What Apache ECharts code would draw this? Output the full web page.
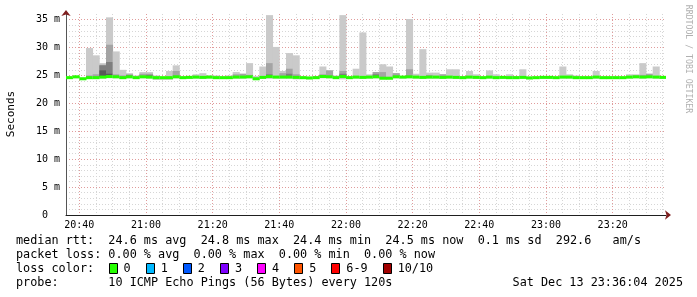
<!DOCTYPE html>
<html><head><meta charset="utf-8">
<script src="https://cdn.jsdelivr.net/npm/echarts@6/dist/echarts.min.js"></script>
<style>html,body{margin:0;padding:0;background:#fff}#c{width:697px;height:297px}</style>
</head><body><div id="c"></div>
<script>
// ---- time axis ----
const START_MIN = 20 * 60 + 36, END_MIN = 23 * 60 + 36, STEP_MIN = 2;
function hhmm(m) { return String(Math.floor(m / 60)).padStart(2, '0') + ':' + String(m % 60).padStart(2, '0'); }
const minuteCats = []; for (let m = START_MIN; m <= END_MIN; m++) minuteCats.push(hhmm(m));
const stepCats = []; for (let m = START_MIN; m < END_MIN; m += STEP_MIN) stepCats.push(hhmm(m));
const xTickLabels = ['20:40', '21:00', '21:20', '21:40', '22:00', '22:20', '22:40', '23:00', '23:20'];
const yTickValues = [0, 5, 10, 15, 20, 25, 30, 35];

// ---- data (ms) per 2-minute step ----
const medianRtt = [24.6,24.75,24.4,24.6,24.6,24.7,24.8,24.75,24.6,24.75,24.6,24.75,24.7,24.6,24.6,24.6,24.75,24.6,24.65,24.7,
  24.65,24.7,24.6,24.6,24.6,24.7,24.7,24.75,24.4,24.65,24.8,24.7,24.7,24.7,24.65,24.6,24.55,24.6,24.8,24.75,
  24.6,24.8,24.6,24.7,24.65,24.7,24.75,24.5,24.5,24.75,24.7,24.75,24.7,24.65,24.7,24.7,24.65,24.7,24.65,24.6,
  24.7,24.65,24.6,24.7,24.6,24.65,24.6,24.6,24.65,24.55,24.6,24.65,24.65,24.6,24.7,24.7,24.6,24.6,24.6,24.7,
  24.6,24.6,24.6,24.6,24.7,24.75,24.7,24.75,24.7,24.65];
const smokeMin = [24.4,24.5,24.2,24.4,24.4,24.45,24.5,24.5,24.4,24.5,24.4,24.5,24.45,24.2,24.2,24.2,24.5,24.4,24.4,24.45,
  24.4,24.45,24.4,24.4,24.4,24.45,24.45,24.5,24.2,24.4,24.4,24.45,24.45,24.45,24.3,24.4,24.3,24.4,24.5,24.5,
  24.4,24.3,24.4,24.45,24.4,24.45,24.5,24.3,24.3,24.5,24.45,24.5,24.45,24.4,24.45,24.45,24.4,24.45,24.4,24.4,
  24.45,24.4,24.4,24.45,24.4,24.4,24.4,24.4,24.4,24.3,24.4,24.4,24.4,24.4,24.45,24.45,24.4,24.4,24.4,24.45,
  24.4,24.4,24.4,24.4,24.45,24.5,24.45,24.5,24.45,24.4];
const smokeMax = [24.8,24.9,24.6,29.9,28.6,27.2,35.4,29.3,26.0,25.4,25.0,25.6,25.6,25.0,24.7,25.8,26.8,24.8,24.9,25.2,
  25.4,25.0,25.0,24.8,25.0,25.6,25.3,27.2,24.9,26.6,35.8,30.1,25.8,29.0,28.6,24.8,24.7,24.9,26.6,25.9,
  25.0,35.8,24.9,26.2,32.7,25.2,25.6,27.0,26.6,25.4,24.9,35.1,25.3,29.7,25.5,25.5,25.2,26.1,26.1,24.9,
  25.8,25.2,24.8,25.9,25.2,24.9,25.2,24.9,26.1,24.8,24.7,24.8,24.8,24.7,26.6,25.2,25.0,24.8,24.8,25.8,
  24.8,24.8,24.8,24.8,25.2,25.2,27.2,25.3,26.6,24.8];
// inner smoke layers (2nd, 3rd, 4th highest pings); null = hidden under the median
const smokeP8 = [null,null,null,25.0,25.2,26.9,30.5,25.2,25.0,25.2,null,25.3,25.3,null,null,null,25.8,null,null,null,
  null,null,null,null,null,25.2,25.3,25.1,null,null,27.2,null,25.4,26.2,25.2,null,null,null,25.2,25.9,
  null,25.8,null,null,null,null,25.6,25.6,null,25.4,null,26.1,null,null,25.1,null,25.2,null,null,null,
  null,null,null,null,null,null,null,null,null,null,null,null,null,null,null,null,null,null,null,null,
  null,null,null,null,null,25.0,25.1,25.3,null,null];
const smokeP7 = [null,null,null,null,null,26.8,27.4,null,null,25.0,null,null,25.1,null,null,null,null,null,null,null,
  null,null,null,null,null,null,null,null,null,null,25.2,null,null,25.3,null,null,null,null,null,null,
  null,25.3,null,null,null,null,25.2,null,null,null,null,null,null,null,null,null,null,null,null,null,
  null,null,null,null,null,null,null,null,null,null,null,null,null,null,null,null,null,null,null,null,
  null,null,null,null,null,null,null,null,null,null];
const smokeP6 = [null,null,null,null,null,25.9,25.3,null,null,null,null,null,null,null,null,null,null,null,null,null,
  null,null,null,null,null,null,null,null,null,null,null,null,null,null,null,null,null,null,null,null,
  null,null,null,null,null,null,null,null,null,null,null,null,null,null,null,null,null,null,null,null,
  null,null,null,null,null,null,null,null,null,null,null,null,null,null,null,null,null,null,null,null,
  null,null,null,null,null,null,null,null,null,null];

// ---- legend ----
const lossLabels = ['0', '1', '2', '3', '4', '5', '6-9', '10/10'];
const lossColors = ['#26ff00', '#00b8ff', '#0059ff', '#7e00ff', '#ff00ff', '#ff5500', '#ff0000', '#a10000'];
const legendLines = [
  'median rtt:  24.6 ms avg  24.8 ms max  24.4 ms min  24.5 ms now  0.1 ms sd  292.6   am/s',
  'packet loss: 0.00 % avg  0.00 % max  0.00 % min  0.00 % now',
  'loss color:',
  'probe:       10 ICMP Echo Pings (56 Bytes) every 120s'
];
const stampText = 'Sat Dec 13 23:36:04 2025';

// ---- styles ----
const SMOKE = ['#cacaca', '#a4a4a4', '#7e7e7e', '#585858'];
const MED_HALF = 0.27;
const MONO = '"DejaVu Sans Mono", monospace';
const GRID_C = '#d6d6d6', MGRID_C = '#e09c9c', ARROW_C = '#7f1f1f';
const minuteOf = v => { const p = v.split(':'); return (+p[0]) * 60 + (+p[1]); };

const data = stepCats.map((c, i) => [i, smokeMin[i], smokeMax[i],
  smokeP8[i] == null ? NaN : smokeP8[i], smokeP7[i] == null ? NaN : smokeP7[i],
  smokeP6[i] == null ? NaN : smokeP6[i], medianRtt[i]]);

const chart = echarts.init(document.getElementById('c'), null, { renderer: 'canvas' });

const graphics = [];
const LX = 16, LY0 = 241, LDY = 14, LFONT = '11.8px ' + MONO, CW = 7.12;
legendLines.forEach((t, k) => graphics.push({ type: 'text', x: LX, y: LY0 + k * LDY,
  style: { text: t, font: LFONT, fill: '#000', textVerticalAlign: 'middle', verticalAlign: 'middle' } }));
let sx = LX + 13 * CW;
lossLabels.forEach((lab, k) => {
  graphics.push({ type: 'rect', shape: { x: Math.round(sx) + 0.5, y: LY0 + 2 * LDY - 5.5, width: 8, height: 10 },
    style: { fill: lossColors[k], stroke: '#000', lineWidth: 1 } });
  graphics.push({ type: 'text', x: sx + 15, y: LY0 + 2 * LDY,
    style: { text: lab, font: LFONT, fill: '#000', textVerticalAlign: 'middle', verticalAlign: 'middle' } });
  sx = sx + 15 + lab.length * CW + 15;
});
graphics.push({ type: 'text', x: 683, y: LY0 + 3 * LDY,
  style: { text: stampText, font: LFONT, fill: '#000', textAlign: 'right', align: 'right', textVerticalAlign: 'middle', verticalAlign: 'middle' } });
graphics.push({ type: 'text', x: 11, y: 114, rotation: Math.PI / 2,
  style: { text: 'Seconds', font: '11px ' + MONO, fill: '#000', textAlign: 'center', align: 'center', textVerticalAlign: 'middle', verticalAlign: 'middle' } });
graphics.push({ type: 'text', x: 688, y: 59, rotation: -Math.PI / 2,
  style: { text: 'RRDTOOL / TOBI OETIKER', font: '8.2px ' + MONO, fill: '#b0b0b0', textAlign: 'center', align: 'center', textVerticalAlign: 'middle', verticalAlign: 'middle' } });

chart.setOption({
  animation: false,
  backgroundColor: '#ffffff',
  grid: { left: 66, right: 31, top: 14, bottom: 82, containLabel: false },
  xAxis: [
    { type: 'category', data: stepCats, boundaryGap: true, show: false, position: 'bottom' },
    { type: 'category', data: minuteCats, boundaryGap: false, position: 'bottom',
      axisLine: { show: false }, axisTick: { show: false }, axisLabel: { show: false },
      splitLine: { show: true, interval: (i, v) => minuteOf(v) % 5 === 0 && minuteOf(v) % 20 !== 0,
        lineStyle: { color: GRID_C, type: [1, 2], width: 1 } } },
    { type: 'category', data: minuteCats, boundaryGap: false, position: 'bottom',
      axisLine: { show: true, onZero: false, lineStyle: { color: '#1f1f1f', width: 1 } },
      axisTick: { show: false },
      axisLabel: { interval: (i, v) => xTickLabels.indexOf(v) >= 0, fontFamily: MONO, fontSize: 10, color: '#000', margin: 5 },
      splitLine: { show: true, interval: (i, v) => xTickLabels.indexOf(v) >= 0,
        lineStyle: { color: MGRID_C, type: [1, 2], width: 1 } } },
    { type: 'value', min: 0, max: 1, position: 'bottom',
      axisLine: { show: true, onZero: false, symbol: ['none', 'arrow'], symbolSize: [7, 6], symbolOffset: [0, 5],
        lineStyle: { color: ARROW_C, width: 0.01 } },
      axisTick: { show: false }, axisLabel: { show: false }, splitLine: { show: false } }
  ],
  yAxis: [
    { type: 'value', min: 0, max: 36, interval: 1, position: 'left',
      axisLine: { show: false }, axisTick: { show: false }, axisLabel: { show: false },
      splitLine: { show: true, showMaxLine: false, lineStyle: { color: ['rgba(0,0,0,0)', GRID_C, GRID_C, GRID_C, GRID_C], type: [1, 2], width: 1 } } },
    { type: 'value', min: 0, max: 36, interval: 5, position: 'left',
      axisLine: { show: true, onZero: false, lineStyle: { color: '#555', width: 1 } },
      axisTick: { show: false },
      axisLabel: { showMaxLabel: false, fontFamily: MONO, fontSize: 10, color: '#000', margin: 6,
        formatter: v => yTickValues.indexOf(v) < 0 ? '' : (v === 0 ? '0  ' : v + ' m') },
      splitLine: { show: true, showMinLine: false, showMaxLine: false, lineStyle: { color: MGRID_C, type: [1, 2], width: 1 } } },
    { type: 'value', min: 0, max: 1, position: 'left',
      axisLine: { show: true, onZero: false, symbol: ['none', 'arrow'], symbolSize: [7, 6], symbolOffset: [0, 4],
        lineStyle: { color: ARROW_C, width: 0.01 } },
      axisTick: { show: false }, axisLabel: { show: false }, splitLine: { show: false } }
  ],
  series: [{
    type: 'custom', xAxisIndex: 0, yAxisIndex: 0, clip: true,
    encode: { x: 0, y: [1, 2] },
    data: data,
    renderItem: function (params, api) {
      const i = api.value(0);
      const w = api.size([1, 0])[0];
      const x0 = api.coord([i, 0])[0] - w / 2;
      const rect = (a, b, color) => {
        const pa = api.coord([i, a]), pb = api.coord([i, b]);
        return { type: 'rect', shape: { x: x0, y: pb[1], width: w + 0.4, height: pa[1] - pb[1] }, style: { fill: color } };
      };
      const lo = api.value(1), hi = api.value(2), p8 = api.value(3), p7 = api.value(4), p6 = api.value(5), med = api.value(6);
      const ch = [rect(lo, hi, SMOKE[0])];
      if (isFinite(p8)) ch.push(rect(med, p8, SMOKE[1]));
      if (isFinite(p7)) ch.push(rect(med, p7, SMOKE[2]));
      if (isFinite(p6)) ch.push(rect(med, p6, SMOKE[3]));
      ch.push(rect(med - MED_HALF, med + MED_HALF, lossColors[0]));
      return { type: 'group', children: ch };
    }
  }],
  graphic: graphics
});
</script></body></html>
